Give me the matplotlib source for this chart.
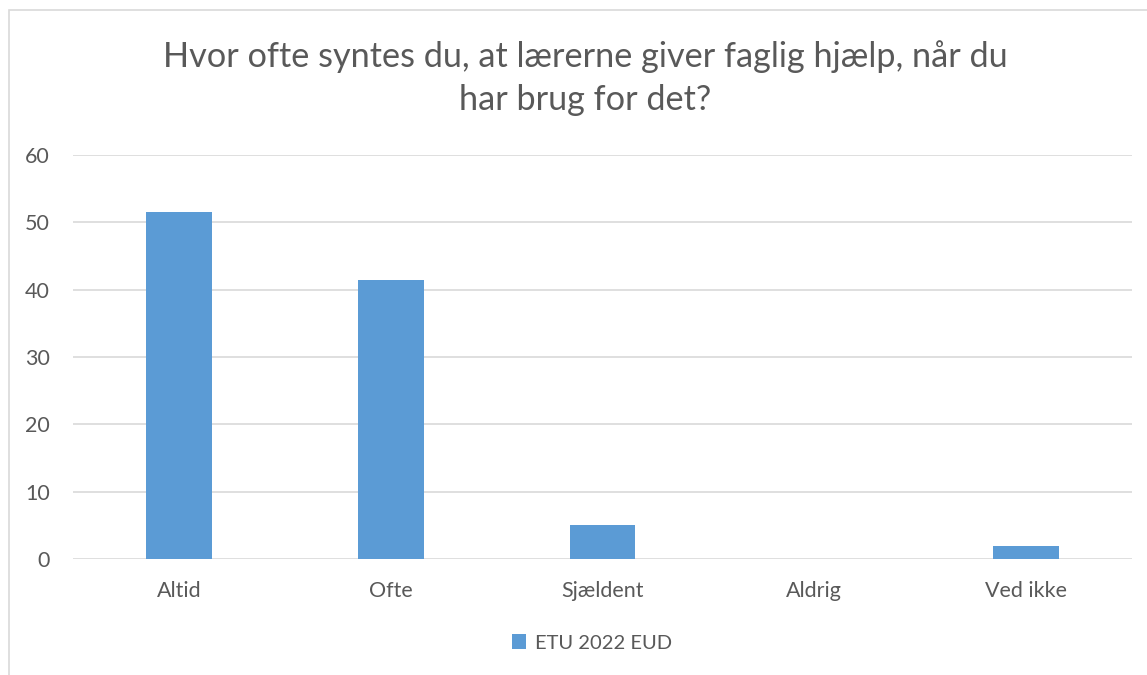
import matplotlib.pyplot as plt
from matplotlib.patches import Rectangle

categories = ['Altid', 'Ofte', 'Sjældent', 'Aldrig', 'Ved ikke']
values = [51.6, 41.5, 5.1, 0, 1.9]
series_name = 'ETU 2022 EUD'
title = 'Hvor ofte syntes du, at lærerne giver faglig hjælp, når du\nhar brug for det?'

plt.rcParams['font.family'] = ['Lato', 'DejaVu Sans']
text_color = '#595959'
bar_color = '#5B9BD5'

fig = plt.figure(figsize=(11.47, 6.75), dpi=100)
ax = fig.add_axes([73 / 1147, 1 - 559 / 675, (1132 - 73) / 1147, (559 - 155) / 675])

# chart area border
fig.patches.append(Rectangle((9 / 1147, -0.05), 1.2, 0.05 + 665 / 675, transform=fig.transFigure,
                             fill=False, edgecolor='#D9D9D9', linewidth=1.2))

x = range(len(categories))
ax.bar(x, values, width=0.31, color=bar_color, label=series_name, zorder=3)
ax.set_xlim(-0.5, len(categories) - 0.5)
ax.set_ylim(0, 60)
ax.set_yticks(range(0, 61, 10))
ax.set_xticks(list(x))
ax.set_xticklabels(categories)
ax.grid(axis='y', color='#D9D9D9', linewidth=1.2, zorder=0)
for s in ax.spines.values():
    s.set_visible(False)
ax.tick_params(axis='both', length=0, labelsize=15.5, labelcolor=text_color)
ax.tick_params(axis='y', pad=16.5)
ax.tick_params(axis='x', pad=16)

fig.text(585 / 1147, 1 - 78 / 675, title, ha='center', va='center', fontsize=24.7,
         color=text_color, linespacing=1.45)

fig.legend(loc='center', bbox_to_anchor=(592 / 1147, 1 - 643 / 675), frameon=False,
           fontsize=14.5, labelcolor=text_color, handlelength=0.7, handleheight=0.7,
           handletextpad=0.4)

fig.savefig('out.png', dpi=100, facecolor='white')
